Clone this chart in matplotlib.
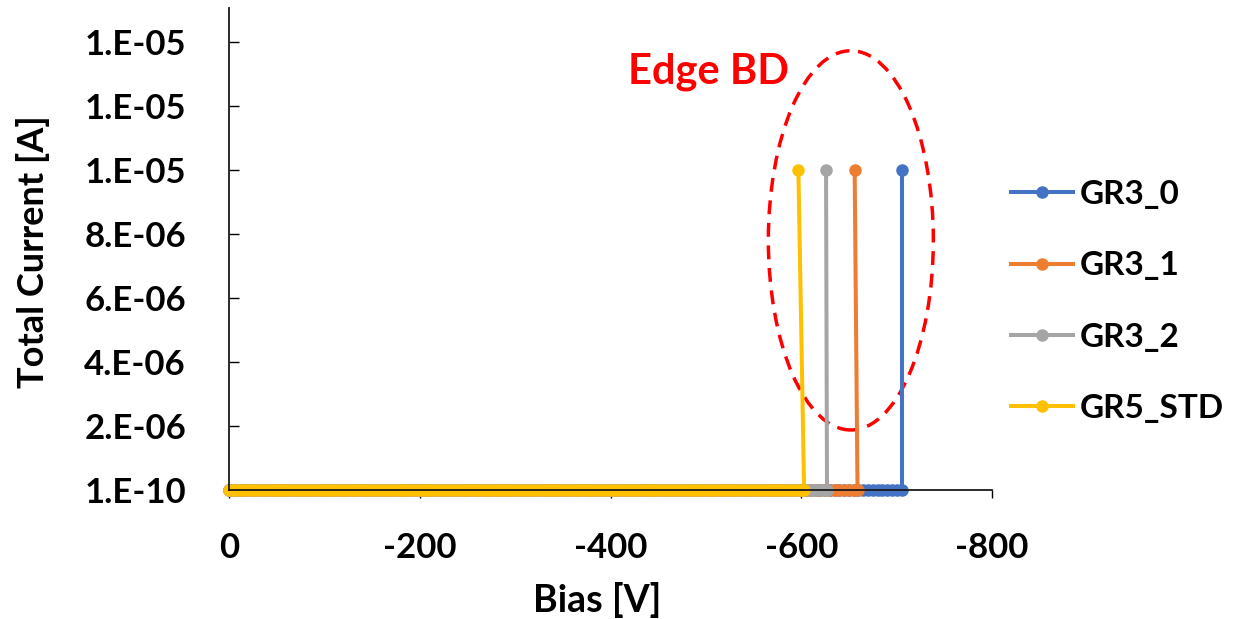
import matplotlib
matplotlib.use("Agg")
import matplotlib.pyplot as plt
from matplotlib.patches import Ellipse
from matplotlib.ticker import FuncFormatter

plt.rcParams['font.family'] = ['Lato', 'DejaVu Sans']
plt.rcParams['font.weight'] = 'bold'

# bias sweep [V], 5 V steps
bias_sweep = [0, -5, -10, -15, -20, -25, -30, -35, -40, -45,
              -50, -55, -60, -65, -70, -75, -80, -85, -90, -95,
              -100, -105, -110, -115, -120, -125, -130, -135, -140, -145,
              -150, -155, -160, -165, -170, -175, -180, -185, -190, -195,
              -200, -205, -210, -215, -220, -225, -230, -235, -240, -245,
              -250, -255, -260, -265, -270, -275, -280, -285, -290, -295,
              -300, -305, -310, -315, -320, -325, -330, -335, -340, -345,
              -350, -355, -360, -365, -370, -375, -380, -385, -390, -395,
              -400, -405, -410, -415, -420, -425, -430, -435, -440, -445,
              -450, -455, -460, -465, -470, -475, -480, -485, -490, -495,
              -500, -505, -510, -515, -520, -525, -530, -535, -540, -545,
              -550, -555, -560, -565, -570, -575, -580, -585, -590, -595,
              -600, -605, -610, -615, -620, -625, -630, -635, -640, -645,
              -650, -655, -660, -665, -670, -675, -680, -685, -690, -695,
              -700]

names = ['GR3_0', 'GR3_1', 'GR3_2', 'GR5_STD']
colors = ['#4472C4', '#ED7D31', '#A5A5A5', '#FFC000']
last_sweep = [-700, -655, -625, -600]     # last regular sweep point before BD
last_low = [-706, -659, -627, -603]       # last point below compliance
bd_bias = [-706, -656, -626, -597]        # point at compliance
leak_current = 1e-10
compliance = 1e-5

fig = plt.figure(figsize=(12.4, 6.19), dpi=100)
ax = fig.add_axes([229/1240, 1 - 490/619, (992-229)/1240, (490-8)/619])

for i in range(len(names)):
    xs = [v for v in bias_sweep if v >= last_sweep[i]] + [last_low[i], bd_bias[i]]
    ys = [leak_current] * (len(xs) - 1) + [compliance]
    ax.plot(xs, ys, color=colors[i], lw=2.9, marker='o', ms=8, label=names[i],
            clip_on=False)

ax.set_xlim(0, -800)
ax.set_ylim(1e-10, 1.506e-5)
ax.set_xticks([0, -200, -400, -600, -800])
ax.set_yticks([1e-10 + k * 2e-6 for k in range(8)])

def sci(v, pos):
    s = f"{v:.0E}"
    return s[0] + '.' + s[1:]

ax.yaxis.set_major_formatter(FuncFormatter(sci))
ax.xaxis.set_major_formatter(FuncFormatter(lambda v, p: f"{v:.0f}"))

for s in ['top', 'right']:
    ax.spines[s].set_visible(False)
for s in ['left', 'bottom']:
    ax.spines[s].set_linewidth(1.3)
    ax.spines[s].set_color('#1a1a1a')

ax.tick_params(axis='y', direction='in', length=7, width=1, pad=31, labelsize=25)
ax.tick_params(axis='x', direction='out', length=6, width=1, pad=24, labelsize=25)

fig.text(597/1240, 1 - 600/619, 'Bias [V]', ha='center', va='center',
         fontsize=27, fontweight='bold')
fig.text(33/1240, 1 - 252/619, 'Total Current [A]', ha='center', va='center',
         rotation=90, fontsize=26, fontweight='bold')

ell = Ellipse((-652, 7.8e-6), 173, 1.185e-5, fill=False, edgecolor='#FF0000',
              lw=2.5, ls=(0, (4, 2.5)), clip_on=False)
ax.add_patch(ell)
ax.text(-418, 1.306e-5, 'Edge BD', color='#FF0000', fontsize=30,
        fontweight='bold', ha='left', va='center')

ax.legend(loc='upper left', bbox_to_anchor=(1011/1240, 1 - 180/619),
          bbox_transform=fig.transFigure, frameon=False, fontsize=24,
          borderpad=0, borderaxespad=0,
          handlelength=1.85, handletextpad=0.2, labelspacing=1.27)

fig.savefig('out.png', dpi=100)
